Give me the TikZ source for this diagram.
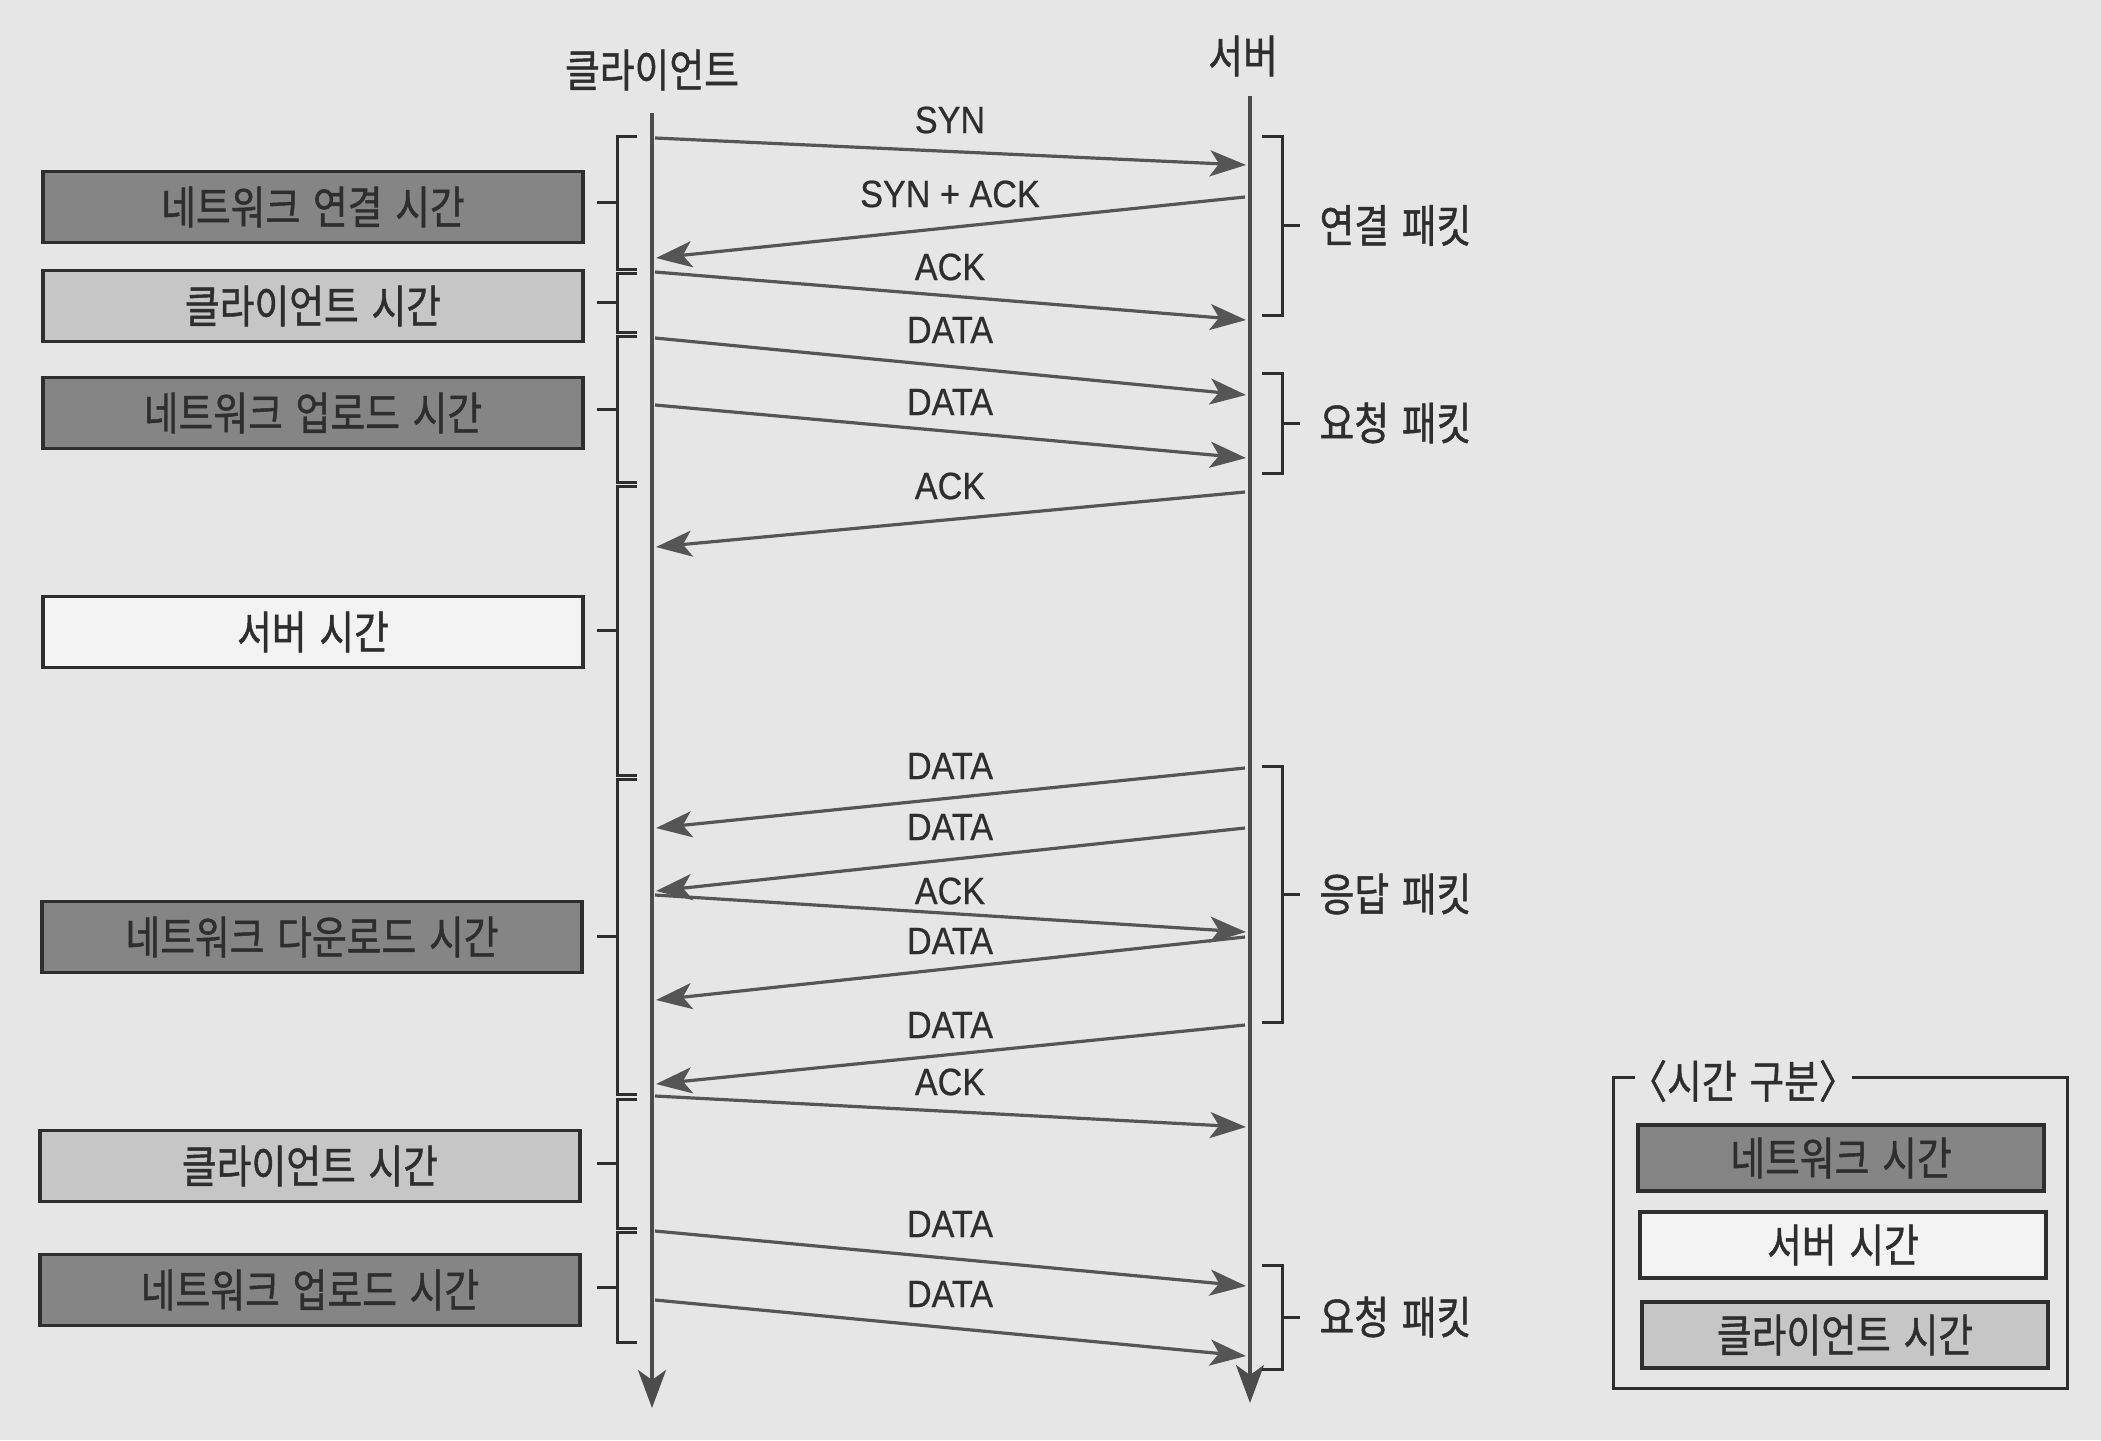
\documentclass[tikz,border=0pt]{standalone}
\usepackage{fontspec}
\newfontfamily\kr[FakeStretch=0.84,WordSpace=1.5,FakeBold=1]{Noto Sans CJK KR}
\newfontfamily\lat[FakeStretch=0.9,FakeBold=0.6]{Liberation Sans}
\usetikzlibrary{arrows.meta}
\definecolor{bg}{HTML}{E6E6E6}
\definecolor{netgray}{HTML}{858585}
\definecolor{cligray}{HTML}{C6C6C6}
\definecolor{srvwhite}{HTML}{F3F3F3}
\definecolor{linegray}{HTML}{4C4C4C}
\definecolor{arrgray}{HTML}{555555}
\definecolor{ink}{HTML}{2E2E2E}
\tikzset{
  krfont/.style={font=\kr\fontsize{45}{50}\selectfont, text=ink},
  boxbase/.style={krfont, draw=ink, line width=3.5pt, minimum width=540pt, minimum height=71pt, inner sep=0pt},
  netbox/.style={boxbase, fill=netgray},
  clibox/.style={boxbase, fill=cligray},
  srvbox/.style={boxbase, fill=srvwhite},
  legbox/.style={boxbase, minimum width=406pt, minimum height=66pt},
  life/.style={line width=3.5pt, draw=linegray, -{Stealth[length=38pt,width=28pt,inset=10pt,fill=linegray]}},
  msg/.style={line width=3.2pt, draw=arrgray, -{Stealth[length=36pt,width=26pt,inset=9pt,fill=arrgray]}},
  msglabel/.style={font=\lat\fontsize{38}{42}\selectfont, text=ink},
  brk/.style={line width=3pt, draw=ink},
  krlabel/.style={krfont}
}
\begin{document}
\begin{tikzpicture}[x=1pt,y=-1pt]
\fill[bg] (0,0) rectangle (2101,1440);
\useasboundingbox (0,0) rectangle (2101,1440);

% headings
\node[krlabel] (hc) at (652,70) {클라이언트};
\node[krlabel] (hs) at (1243,56) {서버};

% lifelines
\coordinate (c0) at (652,113);
\coordinate (c1) at (652,1408);
\coordinate (s0) at (1250,96);
\coordinate (s1) at (1250,1403);
\draw[life] (c0) -- (c1);
\draw[life] (s0) -- (s1);

% client -> server messages
\foreach \n/\yc/\ys/\t/\ly in {1/138/165/SYN/120, 3/272/320/ACK/267, 4/338/395/DATA/330, 5/405/458/DATA/402, 9/895/932/ACK/891, 12/1096/1127/ACK/1082, 13/1231/1286/DATA/1224, 14/1300/1356/DATA/1294}{
  \coordinate (m\n a) at (655,\yc);
  \coordinate (m\n b) at (1246,\ys);
  \draw[msg] (m\n a) -- (m\n b);
  \node[msglabel] (l\n) at (950,\ly) {\t};
}
% server -> client messages
\foreach \n/\ys/\yc/\t/\ly in {2/197/258/{SYN + ACK}/194, 6/492/547/ACK/486, 7/768/828/DATA/766, 8/828/891/DATA/827, 10/937/1000/DATA/941, 11/1025/1084/DATA/1025}{
  \coordinate (m\n a) at (1245,\ys);
  \coordinate (m\n b) at (656,\yc);
  \draw[msg] (m\n a) -- (m\n b);
  \node[msglabel] (l\n) at (950,\ly) {\t};
}

% left brackets
\foreach \n/\ta/\tb in {1/136/269, 2/273/332, 3/336/482, 4/486/775, 5/779/1094, 6/1099/1228, 7/1232/1342}{
  \coordinate (lb\n t) at (637,\ta);
  \coordinate (lb\n b) at (637,\tb);
  \coordinate (lb\n m) at (617,{(\ta+\tb)/2});
  \draw[brk] (lb\n t) -- (617,\ta) -- (617,\tb) -- (lb\n b);
  \draw[brk] (lb\n m) -- ++(-20,0);
}

% left boxes
\node[netbox] (b1) at (313,207) {네트워크 연결 시간};
\node[clibox] (b2) at (313,306) {클라이언트 시간};
\node[netbox] (b3) at (313,413) {네트워크 업로드 시간};
\node[srvbox] (b4) at (313,632) {서버 시간};
\node[netbox] (b5) at (312,937) {네트워크 다운로드 시간};
\node[clibox] (b6) at (310,1166) {클라이언트 시간};
\node[netbox] (b7) at (310,1290) {네트워크 업로드 시간};

% right brackets
\foreach \n/\ta/\tb/\t in {1/136/315/연결 패킷, 2/373/473/요청 패킷, 3/766/1022/응답 패킷, 4/1265/1369/요청 패킷}{
  \coordinate (rb\n t) at (1262,\ta);
  \coordinate (rb\n b) at (1262,\tb);
  \coordinate (rb\n m) at (1282,{(\ta+\tb)/2});
  \draw[brk] (rb\n t) -- (1282,\ta) -- (1282,\tb) -- (rb\n b);
  \draw[brk] (rb\n m) -- ++(18,0);
  \node[krlabel, anchor=west] (rl\n) at (1316,{(\ta+\tb)/2}) {\t};
}

% legend
\node[krlabel] (lt) at (1743,1081) {〈시간 구분〉};
\draw[brk] (1635,1077) -- (1613,1077) -- (1613,1388) -- (2067,1388) -- (2067,1077) -- (1852,1077);
\node[legbox, fill=netgray] (lg1) at (1841,1158) {네트워크 시간};
\node[legbox, fill=srvwhite] (lg2) at (1843,1245) {서버 시간};
\node[legbox, fill=cligray] (lg3) at (1845,1335) {클라이언트 시간};
\end{tikzpicture}
\end{document}
